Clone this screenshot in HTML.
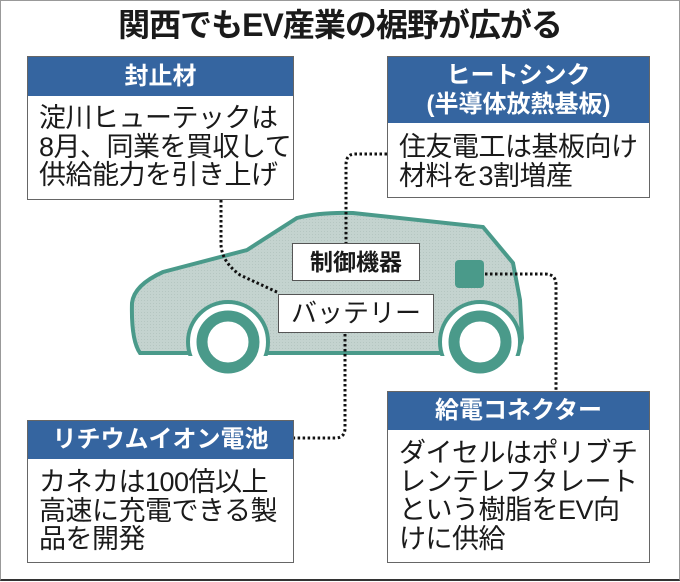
<!DOCTYPE html>
<html><head><meta charset="utf-8"><style>
*{margin:0;padding:0;box-sizing:border-box}
body{width:680px;height:582px;background:#fff;position:relative;overflow:hidden;font-family:"Liberation Sans","Noto Sans CJK JP",sans-serif;color:#1a1a1a}
.frame{position:absolute;left:0;top:0;width:680px;height:581px;border:1px solid #999;border-bottom:2px solid #333}
.title{position:absolute;left:0;width:680px;top:6px;text-align:center;font-size:32px;font-weight:bold;letter-spacing:-1px;line-height:38px}
.box{position:absolute;border:1px solid #666;background:#fff}
.hd{background:#3565a0;color:#fff;font-weight:bold;text-align:center;font-size:24px}
.bd{font-size:27px;line-height:28.5px;padding-left:11px;letter-spacing:-0.5px;white-space:nowrap}
.lbl{position:absolute;background:#fff;border:1px solid #555;text-align:center;font-weight:bold}
svg{position:absolute;left:0;top:0}
</style></head><body>
<div class="frame"></div>
<div class="title">関西でもEV産業の裾野が広がる</div>
<svg width="680" height="582">
<defs><pattern id="p" width="3" height="3" patternUnits="userSpaceOnUse"><rect width="3" height="3" fill="#c4d3cf"/><rect width="1" height="1" fill="#b5c6c1"/></pattern></defs>
<path d="M132,303 Q134,285 163,272 L247,250 L297,218 Q320,212 353,213 L483,227 L513,263 L520,300 L522,338 Q520,353 505,353 L140,353 Q131,340 132,303 Z" fill="url(#p)" stroke="#4a9a8a" stroke-width="4"/>
<circle cx="228" cy="342" r="40" fill="#fff" stroke="#4a9a8a" stroke-width="4"/>
<circle cx="480" cy="342" r="40" fill="#fff" stroke="#4a9a8a" stroke-width="4"/>
<rect x="140" y="356" width="400" height="40" fill="#fff"/>
<circle cx="228" cy="342" r="26" fill="#fff" stroke="#4a9a8a" stroke-width="11"/>
<circle cx="480" cy="342" r="26" fill="#fff" stroke="#4a9a8a" stroke-width="11"/>
<rect x="455" y="260" width="29" height="28" rx="4" fill="#4a9a8a"/>
<g fill="none" stroke="#111" stroke-width="3" stroke-dasharray="2.5 2.5">
<path d="M221,200 L221,245 Q222,262 240,275 L279,293"/>
<path d="M387,154 L355,154 Q346,154 346,165 L346,243"/>
<path d="M485,274 L545,274 Q556,274 556,285 L556,391"/>
<path d="M345,334 L345,428 Q345,438 335,438 L294,438"/>
</g>
</svg>
<div class="box" style="left:27px;top:56px;width:267px;height:144px"><div class="hd" style="height:39px;line-height:39px">封止材</div><div class="bd" style="padding-top:8px">淀川ヒューテックは<br>8月、同業を買収して<br>供給能力を引き上げ</div></div>
<div class="box" style="left:387px;top:56px;width:263px;height:142px"><div class="hd" style="height:66px;line-height:29px;padding-top:4px">ヒートシンク<br>(半導体放熱基板)</div><div class="bd" style="padding-top:10px">住友電工は基板向け<br>材料を3割増産</div></div>
<div class="box" style="left:27px;top:420px;width:267px;height:143px"><div class="hd" style="height:38px;line-height:38px">リチウムイオン電池</div><div class="bd" style="padding-top:9px">カネカは100倍以上<br>高速に充電できる製<br>品を開発</div></div>
<div class="box" style="left:387px;top:391px;width:263px;height:172px"><div class="hd" style="height:38px;line-height:38px">給電コネクター</div><div class="bd" style="padding-top:9px">ダイセルはポリブチ<br>レンテレフタレート<br>という樹脂をEV向<br>けに供給</div></div>
<div class="lbl" style="left:292px;top:243px;width:128px;height:38px;line-height:36px;font-size:23px">制御機器</div>
<div class="lbl" style="left:278px;top:294px;width:156px;height:39px;line-height:37px;font-size:26px;font-weight:normal">バッテリー</div>
</body></html>
